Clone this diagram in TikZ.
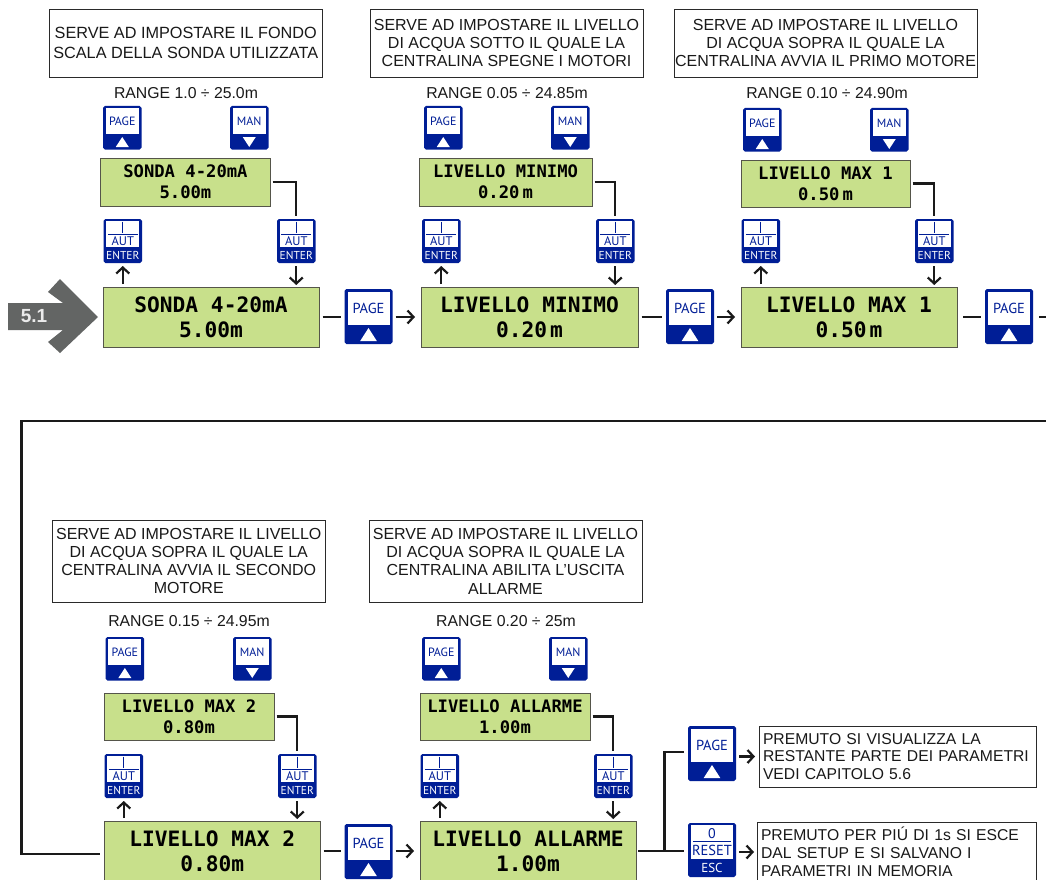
\documentclass[tikz,border=0pt]{standalone}
\usepackage{fontspec}
\setmainfont{Liberation Sans}
\newfontfamily\keyfont{PT Sans}
\newfontfamily\lcdfont{DejaVu Sans Mono}
\usetikzlibrary{arrows.meta}
\definecolor{keyblue}{HTML}{001E96}
\definecolor{lcdgreen}{HTML}{C8E08B}
\definecolor{lcdedge}{HTML}{55554A}
\definecolor{boxedge}{HTML}{2A2A2A}
\definecolor{arrowgray}{HTML}{636564}
\definecolor{linkblack}{HTML}{1A1A1A}
\tikzset{
  keyouter/.style={fill=keyblue,rounded corners=1.8pt,inner sep=0pt,outer sep=0pt,anchor=north west},
  keyinner/.style={fill=white,inner sep=0pt,outer sep=0pt,anchor=north},
  keytext/.style={inner sep=0pt,text=keyblue,font=\keyfont\fontsize{#1}{#1}\selectfont},
  keywhite/.style={inner sep=0pt,text=white,font=\keyfont\fontsize{#1}{#1}\selectfont},
  lcdbase/.style={draw=lcdedge,line width=0.9pt,fill=lcdgreen,inner sep=0pt,outer sep=0pt,anchor=north west,align=center},
  lcdsmall/.style={lcdbase,font=\lcdfont\bfseries\fontsize{17.2}{21}\selectfont},
  lcdbig/.style={lcdbase,font=\lcdfont\bfseries\fontsize{21.2}{25}\selectfont},
  infobox/.style={draw=boxedge,line width=0.9pt,fill=white,inner sep=0pt,outer sep=0pt,anchor=north west,align=center,font=\fontsize{16}{18.3}\selectfont,text=black!90},
  infoboxl/.style={infobox,align=left,inner xsep=4pt,font=\fontsize{15.7}{17.8}\selectfont},
  rangetext/.style={inner sep=0pt,font=\fontsize{15.8}{18}\selectfont,text=black!90},
  link/.style={draw=linkblack,line width=2.2pt},
  linkarrow/.style={link,-{Straight Barb[length=6pt,width=13pt,line width=2.2pt]}},
}
% keys: name, left, top
\newcommand\SmallPage[3]{%
  \node[keyouter,minimum width=38.5pt,minimum height=43.5pt] (#1) at (#2,#3) {};
  \node[keyinner,minimum width=33pt,minimum height=26pt] (#1w) at ([yshift=-2.2pt]#1.north) {};
  \node[keytext=12] (#1t) at (#1w.center) {PAGE};
  \fill[white,shift={(#1.south)}] (-6.5,-2.5)--(6.5,-2.5)--(0,-12.5)--cycle;
}
\newcommand\SmallMan[3]{%
  \node[keyouter,minimum width=38.5pt,minimum height=43.5pt] (#1) at (#2,#3) {};
  \node[keyinner,minimum width=33pt,minimum height=26pt] (#1w) at ([yshift=-2.2pt]#1.north) {};
  \node[keytext=12] (#1t) at (#1w.center) {MAN};
  \fill[white,shift={(#1.south)}] (-6.5,-12.5)--(6.5,-12.5)--(0,-2.5)--cycle;
}
\newcommand\EnterKey[3]{%
  \node[keyouter,minimum width=38.5pt,minimum height=44pt] (#1) at (#2,#3) {};
  \node[keyinner,minimum width=33pt,minimum height=26pt] (#1w) at ([yshift=-2.2pt]#1.north) {};
  \draw[keyblue,line width=1pt,shift={(#1.north)}] (0,2.5)--(0,14) (-15,15)--(15,15);
  \node[keytext=12.5] (#1t) at ([yshift=-22.5pt]#1.north) {AUT};
  \node[keywhite=11.5] (#1e) at ([yshift=-36.5pt]#1.north) {ENTER};
}
\newcommand\BigPage[3]{%
  \node[keyouter,minimum width=48pt,minimum height=55pt] (#1) at (#2,#3) {};
  \node[keyinner,minimum width=42pt,minimum height=33.5pt] (#1w) at ([yshift=-2.6pt]#1.north) {};
  \node[keytext=14.5] (#1t) at (#1w.center) {PAGE};
  \fill[white,shift={(#1.south)}] (-8.3,-3)--(8.3,-3)--(0,-16)--cycle;
}
\newcommand\ResetKey[3]{%
  \node[keyouter,minimum width=48pt,minimum height=54pt] (#1) at (#2,#3) {};
  \node[keyinner,minimum width=42pt,minimum height=34pt] (#1w) at ([yshift=-2.2pt]#1.north) {};
  \draw[keyblue,line width=1pt,shift={(#1.north)}] (-19,18)--(19,18);
  \node[keytext=14] (#1z) at ([yshift=-11pt]#1.north) {0};
  \node[keytext=14.5] (#1t) at ([yshift=-27pt]#1.north) {RESET};
  \node[keywhite=13] (#1e) at ([yshift=-45pt]#1.north) {ESC};
}
\begin{document}
\begin{tikzpicture}[x=1pt,y=-1pt]
\clip (0,0) rectangle (1046,880);
\fill[white] (0,0) rectangle (1046,880);

% entry arrow
\fill[arrowgray] (8,303)--(63,303)--(48,292)--(60,279)--(98,317)--(60,353)--(48,342)--(63,330)--(8,330)--cycle;
\node[inner sep=0pt,text=white!92!black,font=\bfseries\fontsize{19}{19}\selectfont] (lab51) at (34,316.5) {5.1};

% ---------- Column A
\node[infobox,minimum width=272.5pt,minimum height=68pt,font=\fontsize{16.25}{20}\selectfont] (iA) at (49.5,9) {SERVE AD IMPOSTARE IL FONDO\\SCALA DELLA SONDA UTILIZZATA};
\node[rangetext] (rA) at (186,93) {RANGE 1.0 ÷ 25.0m};
\SmallPage{pA}{103}{106}
\SmallMan{mA}{230}{106}
\node[lcdsmall,minimum width=169.5pt,minimum height=48pt] (sA) at (100.7,158) {SONDA 4-20mA\\5.00m};
\EnterKey{elA}{103.5}{219}
\EnterKey{erA}{277}{219}
\node[lcdbig,minimum width=216pt,minimum height=60pt] (bA) at (103,287) {SONDA 4-20mA\\5.00m};
\BigPage{nA}{344.5}{289}

% ---------- Column B
\node[infobox,minimum width=273pt,minimum height=68pt] (iB) at (370,9) {SERVE AD IMPOSTARE IL LIVELLO\\DI ACQUA SOTTO IL QUALE LA\\CENTRALINA SPEGNE I MOTORI};
\node[rangetext] (rB) at (507,93) {RANGE 0.05 ÷ 24.85m};
\SmallPage{pB}{424}{106}
\SmallMan{mB}{551}{106}
\node[lcdsmall,minimum width=173pt,minimum height=48pt] (sB) at (419,158) {LIVELLO MINIMO\\0.20\kern3pt m};
\EnterKey{elB}{422}{219}
\EnterKey{erB}{596}{219}
\node[lcdbig,minimum width=217pt,minimum height=60pt] (bB) at (421,287) {LIVELLO MINIMO\\0.20\kern3pt m};
\BigPage{nB}{666}{289}

% ---------- Column C
\node[infobox,minimum width=303pt,minimum height=68pt] (iC) at (674,9) {SERVE AD IMPOSTARE IL LIVELLO\\DI ACQUA SOPRA IL QUALE LA\\CENTRALINA AVVIA IL PRIMO MOTORE};
\node[rangetext] (rC) at (827,93) {RANGE 0.10 ÷ 24.90m};
\SmallPage{pC}{743}{108}
\SmallMan{mC}{870}{108}
\node[lcdsmall,minimum width=169pt,minimum height=47pt] (sC) at (741,160) {LIVELLO MAX 1\\0.50\kern3pt m};
\EnterKey{elC}{741.5}{219}
\EnterKey{erC}{915}{219}
\node[lcdbig,minimum width=216pt,minimum height=60pt] (bC) at (741,287) {LIVELLO MAX 1\\0.50\kern3pt m};
\BigPage{nC}{985}{289}

% ---------- Column D
\node[infobox,minimum width=272.5pt,minimum height=82pt] (iD) at (52.5,520) {SERVE AD IMPOSTARE IL LIVELLO\\DI ACQUA SOPRA IL QUALE LA\\CENTRALINA AVVIA IL SECONDO\\MOTORE};
\node[rangetext] (rD) at (189,621) {RANGE 0.15 ÷ 24.95m};
\SmallPage{pD}{105.6}{637}
\SmallMan{mD}{233}{637}
\node[lcdsmall,minimum width=170pt,minimum height=47pt] (sD) at (104,693) {LIVELLO MAX 2\\0.80m};
\EnterKey{elD}{104.5}{754}
\EnterKey{erD}{278}{754}
\node[lcdbig,minimum width=216.5pt,minimum height=60pt] (bD) at (104,821) {LIVELLO MAX 2\\0.80m};
\BigPage{nD}{344.5}{824}

% ---------- Column E
\node[infobox,minimum width=273pt,minimum height=82pt] (iE) at (369,520) {SERVE AD IMPOSTARE IL LIVELLO\\DI ACQUA SOPRA IL QUALE LA\\CENTRALINA ABILITA L’USCITA\\ALLARME};
\node[rangetext] (rE) at (506,621) {RANGE 0.20 ÷ 25m};
\SmallPage{pE}{422}{637}
\SmallMan{mE}{549}{637}
\node[lcdsmall,minimum width=170pt,minimum height=47pt] (sE) at (420,693) {LIVELLO ALLARME\\1.00m};
\EnterKey{elE}{420.5}{754}
\EnterKey{erE}{594}{754}
\node[lcdbig,minimum width=216pt,minimum height=60pt] (bE) at (420,821) {LIVELLO ALLARME\\1.00m};

% ---------- Exit branch
\BigPage{xP}{688}{726}
\ResetKey{xR}{688}{823}
\node[infoboxl,minimum height=61pt,text width=269pt] (tP) at (759,726) {PREMUTO SI VISUALIZZA LA\\RESTANTE PARTE DEI PARAMETRI\\VEDI CAPITOLO 5.6};
\node[infoboxl,minimum height=60pt,text width=271pt] (tR) at (757,822) {PREMUTO PER PIÚ DI 1s SI ESCE\\DAL SETUP E SI SALVANO I\\PARAMETRI IN MEMORIA};

% ---------- Connectors
\foreach \c in {A,B,C,D,E}{
  \draw[link,shorten <=2.5pt,shorten >=3pt] (s\c.east) -| (er\c.north);
  \draw[linkarrow,shorten <=3pt,shorten >=3pt] (el\c.south |- b\c.north) -- (el\c.south);
  \draw[linkarrow,shorten <=3pt,shorten >=2pt] (er\c.south) -- (er\c.south |- b\c.north);
}
\foreach \c/\d in {A/B,B/C}{
  \draw[link,shorten <=3.5pt,shorten >=4pt] (b\c.east) -- (n\c.west |- b\c.east);
  \draw[linkarrow,shorten <=3pt,shorten >=6pt] (n\c.east |- b\d.west) -- (b\d.west);
}
\draw[link,shorten <=6pt,shorten >=4pt] (bC.east) -- (nC.west |- bC.east);
\coordinate (outC) at (1048,317);
\draw[link,shorten <=6pt] (nC.east |- outC) -- (outC);
\draw[link,shorten <=3pt,shorten >=4pt] (bD.east) -- (nD.west |- bD.east);
\draw[linkarrow,shorten <=3pt,shorten >=6pt] (nD.east |- bE.west) -- (bE.west);
\coordinate (outTop) at (1048,421);
\coordinate (backCorner) at (21.5,421);
\coordinate (backLow) at (21.5,854);
\draw[link,line join=miter] (outTop) -- (backCorner) -- (backLow) -- ([yshift=-3pt,xshift=-4pt]bD.west);
\coordinate (junction) at (664.5,851);
\draw[link,shorten <=2pt] (bE.east) -- (junction);
\draw[link,shorten >=4pt] (junction) -- (xR.west |- junction);
\coordinate (branchY) at (0,752);
\draw[link,shorten >=4pt] (junction) |- (xP.west |- branchY);
\draw[linkarrow,shorten <=3pt,shorten >=4pt] (xP.east |- tP.west) -- (tP.west);
\draw[linkarrow,shorten <=3pt,shorten >=3pt] (xR.east |- tR.west) -- (tR.west);
\end{tikzpicture}
\end{document}
